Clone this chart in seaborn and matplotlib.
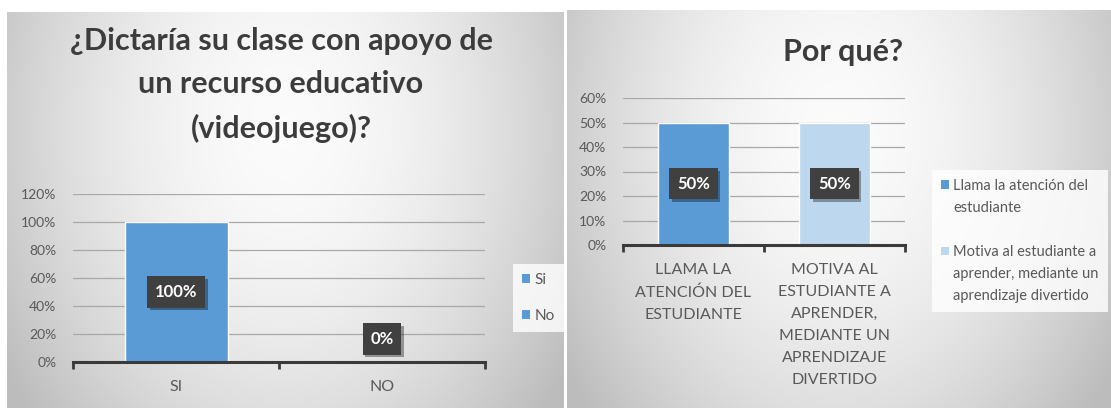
import numpy as np
import pandas as pd
import matplotlib
matplotlib.use("Agg")
import matplotlib.pyplot as plt
import matplotlib.patheffects as pe
from matplotlib.patches import Patch
import seaborn as sns

# Pregunta 1: uso de un videojuego como recurso educativo
uso_categorias = ["SI", "NO"]
uso_valores = [1.00, 0.00]
uso_leyenda = ["Si", "No"]
uso_ticks = [0.0, 0.2, 0.4, 0.6, 0.8, 1.0, 1.2]
uso_titulo = "¿Dictaría su clase con apoyo de\nun recurso educativo\n(videojuego)?"

# Pregunta 2: razones
razon_categorias = [
    "LLAMA LA\nATENCIÓN DEL\nESTUDIANTE",
    "MOTIVA AL\nESTUDIANTE A\nAPRENDER,\nMEDIANTE UN\nAPRENDIZAJE\nDIVERTIDO",
]
razon_valores = [0.50, 0.50]
razon_leyenda = [
    "Llama la atención del\nestudiante",
    "Motiva al estudiante a\naprender, mediante un\naprendizaje divertido",
]
razon_ticks = [0.0, 0.1, 0.2, 0.3, 0.4, 0.5, 0.6]
razon_titulo = "Por qué?"

AZUL = "#5B9BD5"
AZUL_CLARO = "#BDD7EE"
GRIS_TEXTO = "#595959"
GRIS_EJE = "#3A3A3A"

sns.set_theme(style="white")
plt.rcParams["font.family"] = ["Lato", "DejaVu Sans"]

W, H, DPI = 1111, 408, 100
fig = plt.figure(figsize=(W / DPI, H / DPI), dpi=DPI)
fig.patch.set_facecolor("white")


def fondo(rect):
    """Panel gris con degradado radial claro en el centro."""
    ax = fig.add_axes(rect)
    h, w = 200, 300
    yy, xx = np.mgrid[0:1:h * 1j, 0:1:w * 1j]
    r = np.sqrt(((xx - 0.5) / 0.6) ** 2 + ((yy - 0.3) / 1.1) ** 2)
    t = np.clip(r, 0, 1) ** 1.8
    c0, c1 = 0.985, 0.74
    img = np.repeat((c0 + (c1 - c0) * t)[..., None], 3, axis=2)
    ax.imshow(img, aspect="auto", extent=[0, 1, 0, 1], origin="upper")
    ax.set_axis_off()
    return ax


def grafico(rect, categorias, valores, colores, ticks):
    ax = fig.add_axes(rect)
    ax.set_facecolor("none")
    paleta = dict(zip(categorias, colores))
    df = pd.DataFrame({"cat": categorias, "val": valores})
    sns.barplot(data=df, x="cat", y="val", hue="cat", palette=paleta,
                width=0.5, saturation=1, legend=False, ax=ax, zorder=2)
    ax.set_xlim(-0.5, len(categorias) - 0.5)
    ax.set_ylim(0, ticks[-1])
    ax.set_yticks(ticks, [f"{t:.0%}" for t in ticks])
    ax.set_xlabel("")
    ax.set_ylabel("")
    ax.grid(axis="y", color="#A8A8A8", lw=0.9)
    ax.grid(axis="x", visible=False)
    ax.set_axisbelow(True)
    for s in ("left", "right", "top"):
        ax.spines[s].set_visible(False)
    ax.spines["bottom"].set_color(GRIS_EJE)
    ax.spines["bottom"].set_linewidth(2.2)
    ax.set_xticks(np.arange(len(categorias) + 1) - 0.5, minor=True)
    ax.tick_params(axis="x", which="minor", length=5, width=2,
                   color=GRIS_EJE, direction="out", bottom=True)
    ax.tick_params(axis="x", which="major", length=0, pad=13,
                   labelsize=11.5, labelcolor=GRIS_TEXTO)
    ax.tick_params(axis="y", length=0, pad=12, labelsize=10,
                   labelcolor=GRIS_TEXTO)

    # etiquetas de datos centradas en cada barra
    px_por_unidad = ax.get_position().height * H / ticks[-1]
    for i, v in enumerate(valores):
        centro_px = v / 2 * px_por_unidad
        dy = max(0.0, 23 - centro_px) * 72 / DPI
        t = ax.annotate(f"{v:.0%}", (i, v / 2), xytext=(0, dy),
                        textcoords="offset points", ha="center", va="center",
                        color="white", fontsize=12, fontweight="bold",
                        bbox=dict(boxstyle="square,pad=0.46", fc="#404040",
                                  ec="none"), zorder=5)
        t.get_bbox_patch().set_path_effects(
            [pe.SimplePatchShadow(offset=(2, -2), shadow_rgbFace="black",
                                  alpha=0.35), pe.Normal()])
    return ax


def leyenda(etiquetas, colores, esquina, fontsize, labelspacing):
    """Leyenda con el marcador alineado a la primera línea de cada entrada."""
    multilinea = any("\n" in e for e in etiquetas)
    handles, labels = [], []
    for k, (etq, c) in enumerate(zip(etiquetas, colores)):
        if k > 0 and multilinea:
            handles.append(Patch(fc="none", ec="none"))
            labels.append(" ")
        for j, linea in enumerate(etq.split("\n")):
            handles.append(Patch(fc=c if j == 0 else "none", ec="none"))
            labels.append(linea)
    leg = fig.legend(handles, labels, loc="upper left", bbox_to_anchor=esquina,
                     frameon=True, handlelength=0.55, handleheight=0.55,
                     handletextpad=0.3, labelspacing=labelspacing,
                     fontsize=fontsize, labelcolor=GRIS_TEXTO, borderpad=0.6,
                     fancybox=False)
    leg.get_frame().set_facecolor((1, 1, 1, 0.3))
    leg.get_frame().set_edgecolor("none")
    return leg


fondo([7 / W, 0, 557 / W, 396 / H])
fondo([567 / W, 0, 544 / W, 398 / H])

ax1 = grafico([73 / W, (H - 362) / H, 412 / W, 168 / H],
              uso_categorias, uso_valores, [AZUL, AZUL], uso_ticks)
ax2 = grafico([623 / W, (H - 245) / H, 282 / W, 147 / H],
              razon_categorias, razon_valores, [AZUL, AZUL_CLARO], razon_ticks)

fig.text(281 / W, 1 - 85 / H, uso_titulo, ha="center", va="center",
         fontsize=22, fontweight="bold", color="#3C3C3C", linespacing=1.67)
fig.text(843 / W, 1 - 51.5 / H, razon_titulo, ha="center", va="center",
         fontsize=22, fontweight="bold", color="#3C3C3C")

leyenda(uso_leyenda, [AZUL, AZUL], (505 / W, 1 - 256 / H), 11, 1.45)
leyenda(razon_leyenda, [AZUL, AZUL_CLARO], (925 / W, 1 - 163 / H), 10.5, 0.55)

fig.canvas.draw()
for ax in (ax1, ax2):
    for lbl in ax.get_xticklabels():
        lbl.set_linespacing(1.72)

fig.savefig("out.png", dpi=DPI)
